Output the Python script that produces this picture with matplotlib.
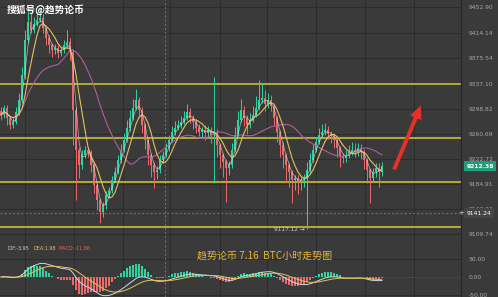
import numpy as np
import pandas as pd
import matplotlib
matplotlib.use("Agg")
import matplotlib.pyplot as plt
from matplotlib.patches import FancyArrowPatch
from matplotlib.transforms import blended_transform_factory

# ---------------- data ----------------
first_open = 9295.0
close = [
    9289.6, 9300.2, 9285.1, 9274.5, 9279.0, 9294.2, 9312.3, 9350.1,
    9403.0, 9430.2, 9418.1, 9427.2, 9433.2, 9436.3, 9421.2, 9406.0,
    9395.4, 9387.9, 9390.9, 9383.4, 9387.9, 9395.4, 9400.0, 9384.9,
    9297.2, 9236.7, 9214.0, 9229.2, 9236.7, 9233.7, 9214.0, 9183.8,
    9161.1, 9143.0, 9153.6, 9168.7, 9176.2, 9191.4, 9203.4, 9221.6,
    9236.7, 9251.9, 9270.0, 9285.1, 9300.2, 9312.3, 9297.2, 9274.5,
    9251.9, 9229.2, 9214.0, 9203.4, 9206.5, 9221.6, 9229.2, 9239.7,
    9251.9, 9264.0, 9270.0, 9274.5, 9279.0, 9285.1, 9294.2, 9285.1,
    9279.0, 9270.0, 9264.0, 9267.0, 9262.4, 9267.0, 9259.4, 9264.0,
    9244.3, 9229.2, 9218.6, 9209.5, 9214.0, 9236.7, 9259.4, 9282.1,
    9297.2, 9285.1, 9274.5, 9282.1, 9289.6, 9300.2, 9312.3, 9315.3,
    9306.3, 9312.3, 9303.2, 9285.1, 9264.0, 9244.3, 9229.2, 9214.0,
    9203.4, 9191.4, 9194.4, 9188.3, 9191.4, 9194.4, 9206.5, 9221.6,
    9236.7, 9248.8, 9259.4, 9264.0, 9267.0, 9260.9, 9257.9, 9251.9,
    9239.7, 9227.6, 9224.6, 9229.2, 9233.7, 9236.7, 9233.7, 9239.7,
    9233.7, 9221.6, 9206.5, 9194.4, 9203.4, 9209.5, 9203.4, 9212.38,
]
up_wick = [
    6, 5, 4, 3, 6, 8, 10, 12, 15, 16, 14, 10, 12, 12, 6, 5,
    4, 3, 6, 4, 5, 8, 18, 6, 4, 5, 4, 8, 6, 5, 3, 3,
    3, 3, 5, 6, 5, 6, 7, 8, 9, 10, 12, 12, 14, 16, 5, 4,
    3, 3, 3, 4, 6, 8, 6, 7, 8, 9, 10, 8, 9, 10, 12, 6,
    5, 4, 6, 5, 8, 6, 4, 83, 4, 3, 3, 4, 6, 10, 12, 14,
    16, 6, 5, 10, 14, 18, 30, 22, 12, 10, 8, 4, 3, 3, 4, 3,
    3, 3, 5, 4, 4, 6, 12, 10, 9, 8, 10, 12, 10, 6, 5, 4,
    3, 3, 5, 8, 10, 12, 10, 8, 6, 4, 3, 3, 6, 8, 8, 6,
]
down_wick = [
    8, 5, 10, 6, 4, 3, 4, 5, 6, 4, 5, 4, 3, 3, 8, 10,
    12, 10, 6, 8, 5, 4, 4, 12, 53, 75, 20, 6, 5, 8, 10, 12,
    15, 17, 8, 6, 5, 4, 3, 3, 4, 3, 3, 4, 3, 3, 10, 12,
    14, 15, 18, 24, 10, 5, 4, 3, 4, 3, 4, 3, 4, 3, 3, 8,
    10, 8, 6, 8, 10, 8, 12, 72, 18, 20, 22, 51, 10, 4, 3, 3,
    3, 12, 14, 4, 3, 3, 3, 4, 10, 6, 8, 12, 15, 18, 20, 25,
    22, 35, 15, 18, 12, 10, 77.3, 4, 3, 3, 3, 3, 4, 8, 10, 12,
    14, 16, 8, 6, 5, 4, 8, 6, 10, 14, 20, 38, 6, 8, 22, 6,
]
price_ticks = [9452.90, 9414.14, 9375.54, 9337.10, 9298.82, 9260.69,
               9222.72, 9184.91, 9147.20, 9109.74]
support_levels = [9337.1, 9255.0, 9188.0, 9120.0]
last_price = 9212.38
cross_price = 9141.24
low_label = 9117.12
low_index = 102
macd_ticks = [50, 0, -50]

# ---------------- derived ----------------
close = np.array(close)
opn = np.concatenate([[first_open], close[:-1]])
high = np.maximum(opn, close) + np.array(up_wick)
low = np.minimum(opn, close) - np.array(down_wick)
idx = np.arange(len(close))
cs = pd.Series(close)
ma_fast = cs.rolling(3, min_periods=1).mean()
ma_mid = cs.rolling(6, min_periods=1).mean()
ma_slow = cs.rolling(20, min_periods=1).mean()
ema_fast = cs.ewm(span=12, adjust=False).mean()
ema_slow = cs.ewm(span=26, adjust=False).mean()
dif = ema_fast - ema_slow
dea = dif.ewm(span=9, adjust=False).mean()
hist = 2 * (dif - dea)

# ---------------- style ----------------
BG = "#3a3a3a"
GRID = "#2c2c2c"
UP = "#2fd39e"
DOWN = "#ec6a6a"
YEL = "#d2ca3a"
W, H = 498, 297
fig = plt.figure(figsize=(W / 100, H / 100), dpi=100, facecolor=BG)

def px_to_x(px):
    return (px - 1) / 3.0

ax = fig.add_axes([0, 55 / H, 461 / W, 242 / H], facecolor=BG)
axm = fig.add_axes([0, 0, 461 / W, 55 / H], facecolor=BG)

y_top = 9463.48
y_bot = 9463.48 - 1.5118 * 242
for a in (ax, axm):
    a.set_xlim(px_to_x(0), px_to_x(461))
    for s in ("top", "left", "bottom"):
        a.spines[s].set_visible(False)
    a.spines["right"].set_color("#262626")
    a.spines["right"].set_linewidth(0.8)
    vgrid = [25, 74, 123, 170, 220, 267, 316, 365, 414]
    for v in vgrid:
        a.axvline(px_to_x(v), color=GRID, lw=0.8, zorder=0)
    a.axvline(px_to_x(165), color="#8a8a8a", lw=0.5, ls=(0, (3, 3)), zorder=0.5)
    a.set_xticks([])
    a.yaxis.tick_right()
    a.tick_params(axis="y", length=0, pad=5.5, labelsize=4.3, labelcolor="#a8a8a8")

ax.set_ylim(y_bot, y_top)
ax.set_yticks(price_ticks)
ax.set_yticklabels([f"{v:.2f}" for v in price_ticks])
for v in price_ticks:
    ax.axhline(v, color=GRID, lw=0.8, zorder=0)

# support lines
for lvl in support_levels:
    ax.axhline(lvl, color=YEL, lw=1.1, zorder=1)
ax.axhline(cross_price, color="#8c8c8c", lw=0.5, ls=(0, (3, 3)), zorder=1)

# candles
colors = [UP if c >= o else DOWN for o, c in zip(opn, close)]
ax.vlines(idx, low, high, colors=colors, lw=0.7, zorder=2)
ax.bar(idx, np.abs(close - opn) + 0.8, bottom=np.minimum(opn, close) - 0.4,
       width=0.75, color=colors, zorder=3, linewidth=0)

# moving averages
ax.plot(idx, ma_slow, color="#a9609f", lw=0.8, zorder=4)
ax.plot(idx, ma_mid, color="#e3c25a", lw=0.8, zorder=5)
ax.plot(idx, ma_fast, color="#dfe6f0", lw=0.5, alpha=0.7, zorder=5)

# labels in price panel
tr = blended_transform_factory(ax.transAxes, ax.transData)
ax.text(1.012, last_price, "9212.38", transform=tr, fontsize=4.3, color="white",
        va="center", ha="left", fontweight="bold",
        bbox=dict(boxstyle="square,pad=0.4", fc="#1f9e7a", ec="none"), clip_on=False, zorder=10)
ax.text(1.012, cross_price, "9141.24", transform=tr, fontsize=4.3, color="white",
        va="center", ha="left",
        bbox=dict(boxstyle="square,pad=0.4", fc="#444444", ec="none"), clip_on=False, zorder=10)
ax.text(1.0, cross_price, "+", transform=tr, fontsize=5, color="#d0d0d0",
        va="center", ha="center", clip_on=False, zorder=11)
ax.text(low_index - 0.8, low_label, "9117.12 \u2192", fontsize=4.2, color="#cfcfcf",
        va="center", ha="right", zorder=10)

# watermark
fig.text(7 / W, 1 - 10 / H, "搜狐号@趋势论币", fontsize=7, color="white",
         family=["Noto Sans CJK SC", "DejaVu Sans"], va="center", ha="left", fontweight="bold")

# arrow
arrow = FancyArrowPatch((393 / W, 1 - 172 / H), (422 / W, 1 - 103 / H),
                        transform=fig.transFigure,
                        arrowstyle="simple,head_width=1.1,head_length=1.2,tail_width=0.35",
                        mutation_scale=8, color="#e63226", lw=0)
fig.patches.append(arrow)

# MACD panel
axm.set_ylim(-55.6, 97.2)
axm.set_yticks(macd_ticks)
axm.set_yticklabels([f"{v:.2f}" for v in macd_ticks])
for v in macd_ticks:
    axm.axhline(v, color=GRID, lw=0.8, zorder=0)
hcol = [UP if h >= 0 else DOWN for h in hist]
axm.bar(idx, hist, width=0.6, color=hcol, zorder=2, linewidth=0)
axm.plot(idx, dif, color="#cfd8e6", lw=0.7, zorder=3)
axm.plot(idx, dea, color="#e3c25a", lw=0.7, zorder=3)
axm.axhline(0, color="#5a5a5a", lw=0.4, zorder=1)

fig.text(8 / W, 1 - 248 / H, "DIF:-3.95", fontsize=3.5, color="#c8d0dc", va="center", ha="left")
fig.text(33 / W, 1 - 248 / H, "DEA:1.98", fontsize=3.5, color="#e3c25a", va="center", ha="left")
fig.text(58 / W, 1 - 248 / H, "MACD:-11.86", fontsize=3.5, color="#e06464", va="center", ha="left")

fig.text(197 / W, 1 - 256 / H, "趋势论币 7.16  BTC小时走势图", fontsize=7.2, color="#e8b634",
         family=["Noto Sans CJK SC", "DejaVu Sans"], va="center", ha="left")

fig.savefig("out.png", dpi=100, facecolor=BG)
